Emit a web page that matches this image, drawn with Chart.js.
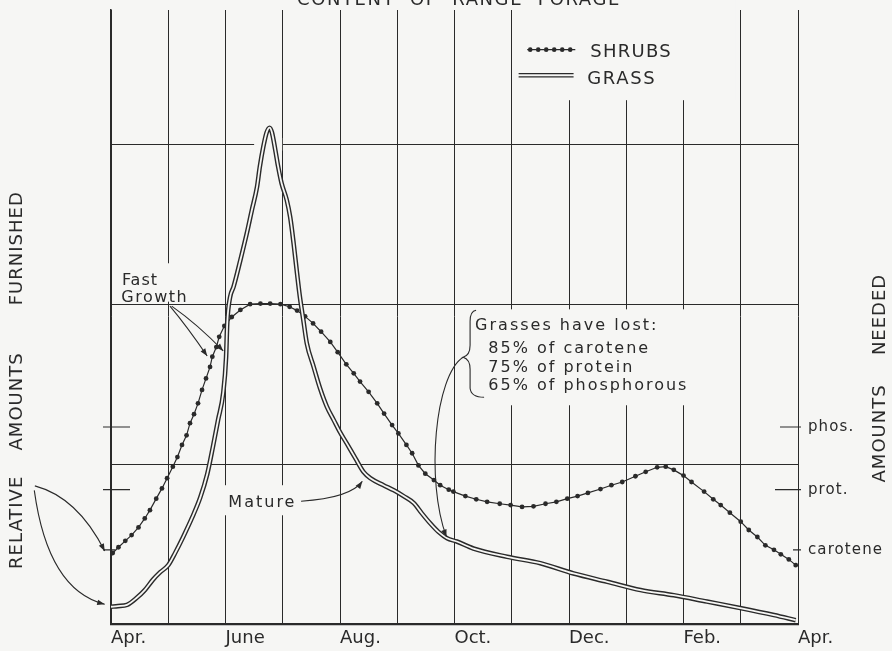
<!DOCTYPE html>
<html>
<head>
<meta charset="utf-8">
<title>Content of range forage</title>
<script src="https://cdn.jsdelivr.net/npm/chart.js@4.4.1/dist/chart.umd.min.js"></script>
<style>
    html, body { margin: 0; padding: 0; background: #f6f6f4; }
    #caixa { width: 892px; height: 651px; position: relative; }
</style>
</head>
<body>
<div id="caixa"><canvas id="grafico"></canvas></div>
<script>
// x = months after April (0 = Apr., 12 = next Apr.), y = relative amount
var monthLabels = ['Apr.', 'June', 'Aug.', 'Oct.', 'Dec.', 'Feb.', 'Apr.'];

var shrubMonths = [0.03, 0.13, 0.25, 0.36, 0.48, 0.59, 0.68, 0.79, 0.89, 0.98, 1.08, 1.16, 1.24, 1.32, 1.38,
    1.45, 1.52, 1.59, 1.66, 1.73, 1.77, 1.84, 1.89, 1.98, 2.11, 2.26, 2.43, 2.61, 2.78, 2.96, 3.12, 3.25,
    3.39, 3.53, 3.67, 3.83, 3.96, 4.11, 4.24, 4.35, 4.50, 4.65, 4.77, 4.91, 5.02, 5.16, 5.26, 5.37, 5.49,
    5.64, 5.75, 5.90, 5.98, 6.19, 6.38, 6.57, 6.79, 6.98, 7.18, 7.38, 7.59, 7.78, 7.97, 8.15, 8.33, 8.55,
    8.74, 8.93, 9.16, 9.34, 9.54, 9.69, 9.83, 10.00, 10.14, 10.36, 10.52, 10.65, 10.81, 11.00, 11.14,
    11.29, 11.43, 11.58, 11.70, 11.84, 11.96];
var shrubAmounts = [11.1, 12.0, 13.0, 13.9, 15.1, 16.5, 17.8, 19.6, 21.2, 22.8, 24.6, 26.1, 28.0, 29.5, 31.4,
    32.8, 34.5, 36.6, 38.4, 40.2, 41.8, 43.3, 44.9, 46.6, 48.0, 49.1, 50.0, 50.1, 50.1, 50.0, 49.6, 49.0,
    48.1, 47.0, 45.7, 44.1, 42.5, 40.6, 39.2, 37.9, 36.3, 34.5, 32.9, 31.1, 29.8, 28.0, 26.7, 24.8, 23.5,
    22.5, 21.7, 21.0, 20.7, 20.0, 19.5, 19.1, 18.8, 18.6, 18.3, 18.4, 18.8, 19.1, 19.6, 20.0, 20.5, 21.1,
    21.7, 22.2, 23.1, 23.8, 24.5, 24.6, 24.1, 23.2, 22.2, 20.7, 19.5, 18.6, 17.4, 16.0, 14.7,
    13.6, 12.3, 11.6, 10.9, 10.1, 9.2];

var grassMonths = [0, 0.12, 0.28, 0.45, 0.59, 0.73, 0.86, 1.00, 1.12, 1.26, 1.42, 1.56, 1.68, 1.78, 1.87,
    1.96, 2.01, 2.03, 2.08, 2.14, 2.26, 2.37, 2.46, 2.55, 2.60, 2.66, 2.72, 2.77, 2.81, 2.87, 2.92, 2.98,
    3.07, 3.13, 3.19, 3.25, 3.30, 3.36, 3.42, 3.54, 3.65, 3.77, 3.89, 4.00, 4.12, 4.27, 4.41, 4.53, 4.76,
    4.94, 5.11, 5.29, 5.43, 5.58, 5.72, 5.87, 6.04, 6.33, 6.92, 7.50, 8.08, 8.67, 9.25, 9.83, 10.41,
    10.99, 11.58, 11.96];
var grassAmounts = [2.7, 2.8, 3.0, 4.1, 5.3, 6.9, 8.1, 9.2, 11.1, 13.6, 16.7, 19.8, 23.4, 27.7, 31.9,
    36.1, 41.7, 47.0, 51.1, 52.7, 56.9, 61.0, 64.7, 68.3, 71.5, 74.6, 76.9, 77.6, 76.9, 74.1, 71.5, 68.9,
    66.3, 63.6, 59.5, 54.8, 51.1, 47.5, 43.9, 40.2, 36.9, 34.0, 31.9, 30.0, 28.2, 25.9, 23.8, 22.8, 21.7,
    20.9, 20.0, 18.9, 17.3, 15.7, 14.4, 13.4, 12.9, 11.8, 10.5, 9.5, 7.9, 6.6, 5.3, 4.5, 3.5,
    2.5, 1.4, 0.6];

// levels needed (marked on the right-hand axis)
var needLabels = ['phos.', 'prot.', 'carotene'];
var needLevels = [30.8, 21.0, 11.6];

document.addEventListener('DOMContentLoaded', function () {
    var ctx = document.getElementById('grafico').getContext('2d');
    var fundo = '#f6f6f4';
    var tinta = '#2a2a2a';
    var familia = '"DejaVu Sans", sans-serif';

    function fonte(tam) { return tam + 'px ' + familia; }

    function pontos(xs, ys) {
        return xs.map(function (x, i) { return { x: x, y: ys[i] }; });
    }

    function texto(c, s, x, y, tam, esp, align) {
        c.font = fonte(tam);
        c.letterSpacing = (esp || 0) + 'px';
        c.textAlign = align || 'left';
        c.fillText(s, x, y);
    }

    // pequena ponta de seta cheia
    function ponta(c, de, para) {
        var ang = Math.atan2(para.y - de.y, para.x - de.x);
        var L = 8, w = 0.36;
        c.beginPath();
        c.moveTo(para.x, para.y);
        c.lineTo(para.x - L * Math.cos(ang - w), para.y - L * Math.sin(ang - w));
        c.lineTo(para.x - L * Math.cos(ang + w), para.y - L * Math.sin(ang + w));
        c.closePath();
        c.fill();
    }

    function seta(c, p0, cp, p1) {
        c.beginPath();
        c.moveTo(p0.x, p0.y);
        c.quadraticCurveTo(cp.x, cp.y, p1.x, p1.y);
        c.stroke();
        ponta(c, cp, p1);
    }

    var anotacoes = {
        id: 'anotacoes',
        beforeDatasetsDraw: function (chart) {
            // blank areas behind the lettering, where the grid is broken
            var c = chart.ctx, sx = chart.scales.x, sy = chart.scales.y;
            function caixa(m0, a0, m1, a1) {
                var x0 = sx.getPixelForValue(m0), x1 = sx.getPixelForValue(m1);
                var y0 = sy.getPixelForValue(a0), y1 = sy.getPixelForValue(a1);
                c.fillRect(x0, y0, x1 - x0, y1 - y0);
            }
            c.save();
            c.fillStyle = fundo;
            caixa(0.12, 56.4, 1.49, 50.4);
            caixa(1.94, 21.7, 3.30, 17.0);
            caixa(6.14, 49.2, 10.38, 34.2);
            caixa(7.01, 100, 10.91, 81.9);
            caixa(2.50, 76.0, 2.99, 74.0);
            c.restore();
        },
        afterDraw: function (chart) {
            var c = chart.ctx, sx = chart.scales.x, sy = chart.scales.y;
            function P(m, a) { return { x: sx.getPixelForValue(m), y: sy.getPixelForValue(a) }; }
            var esq = sx.getPixelForValue(0), dir = sx.getPixelForValue(12);

            c.save();
            c.fillStyle = tinta;
            c.strokeStyle = tinta;
            c.textBaseline = 'alphabetic';

            // title, cut by the top of the page
            texto(c, 'CONTENT  OF  RANGE  FORAGE', 459, 5, 18, 1.6, 'center');

            // axis words, rotated
            function vertical(s, x, a) {
                c.save();
                c.translate(x, sy.getPixelForValue(a));
                c.rotate(-Math.PI / 2);
                c.textBaseline = 'middle';
                texto(c, s, 0, 0, 18, 1, 'center');
                c.restore();
            }
            vertical('RELATIVE', 17, 15.9);
            vertical('AMOUNTS', 17, 34.8);
            vertical('FURNISHED', 17, 58.75);
            vertical('AMOUNTS', 880, 29.8);
            vertical('NEEDED', 880, 48.4);

            // needed levels: ticks on both axes, labels on the right
            c.lineWidth = 1.2;
            needLevels.forEach(function (v, i) {
                var y = sy.getPixelForValue(v);
                var dentro = i < 2 ? (i === 0 ? 18 : 23) : 5;
                c.beginPath();
                c.moveTo(dir - dentro, y); c.lineTo(dir + 3, y);
                c.moveTo(esq - 8, y); c.lineTo(esq + (i < 2 ? 19 : 4), y);
                c.stroke();
                c.textBaseline = 'middle';
                texto(c, needLabels[i], dir + 10, y, 15, 1.1, 'left');
            });
            c.textBaseline = 'alphabetic';

            // legend
            var s0 = P(7.27, 89.8), s1 = P(8.11, 89.8);
            c.lineWidth = 1.2;
            c.beginPath(); c.moveTo(s0.x, s0.y); c.lineTo(s1.x, s1.y); c.stroke();
            for (var xx = s0.x + 3; xx <= s1.x; xx += 8) {
                c.beginPath(); c.arc(xx, s0.y, 2.3, 0, Math.PI * 2); c.fill();
            }
            var g0 = P(7.12, 85.8), g1 = P(8.08, 85.8);
            c.lineWidth = 4.6;
            c.beginPath(); c.moveTo(g0.x, g0.y); c.lineTo(g1.x, g1.y); c.stroke();
            c.strokeStyle = fundo; c.lineWidth = 1.8;
            c.beginPath(); c.moveTo(g0.x - 1, g0.y); c.lineTo(g1.x + 1, g1.y); c.stroke();
            c.strokeStyle = tinta;
            var t = P(8.37, 88.6);
            texto(c, 'SHRUBS', t.x, t.y, 18, 1.3);
            t = P(8.32, 84.5);
            texto(c, 'GRASS', t.x, t.y, 18, 1.6);

            // lettering inside the plot
            t = P(0.19, 53.0); texto(c, 'Fast', t.x, t.y, 16, 1);
            t = P(0.18, 50.4); texto(c, 'Growth', t.x, t.y, 16, 1.5);
            t = P(2.05, 18.3); texto(c, 'Mature', t.x, t.y, 16, 2);
            t = P(6.36, 45.9); texto(c, 'Grasses have lost:', t.x, t.y, 16, 2);
            t = P(6.59, 42.3); texto(c, '85% of carotene', t.x, t.y, 16, 2);
            t = P(6.59, 39.4); texto(c, '75% of protein', t.x, t.y, 16, 2);
            t = P(6.59, 36.6); texto(c, '65% of phosphorous', t.x, t.y, 16, 2);

            // arrows
            c.lineWidth = 1.1;
            seta(c, P(1.03, 49.7), P(1.33, 46.5), P(1.68, 41.9));
            seta(c, P(1.06, 49.7), P(1.52, 46.8), P(1.96, 42.7));
            seta(c, P(3.32, 19.2), P(4.18, 19.7), P(4.39, 22.3));
            seta(c, P(-1.33, 21.6), P(-0.58, 19.8), P(-0.11, 11.4));
            seta(c, P(-1.34, 20.9), P(-1.10, 5.3), P(-0.11, 3.1));

            // brace and its arrow
            var b = P(6.15, 41.7);
            c.beginPath();
            c.moveTo(b.x + 13, b.y - 47);
            c.quadraticCurveTo(b.x + 7, b.y - 46, b.x + 7, b.y - 36);
            c.lineTo(b.x + 7, b.y - 12);
            c.quadraticCurveTo(b.x + 7, b.y - 2, b.x, b.y);
            c.quadraticCurveTo(b.x + 7, b.y + 2, b.x + 7, b.y + 12);
            c.lineTo(b.x + 7, b.y + 31);
            c.quadraticCurveTo(b.x + 8, b.y + 40, b.x + 21, b.y + 40);
            c.stroke();
            var c1 = P(5.66, 38.9), c2 = P(5.49, 22.5), fim = P(5.86, 13.6);
            c.beginPath();
            c.moveTo(b.x, b.y);
            c.bezierCurveTo(c1.x, c1.y, c2.x, c2.y, fim.x, fim.y);
            c.stroke();
            ponta(c, c2, fim);

            c.restore();
        }
    };

    new Chart(ctx, {
        type: 'line',
        data: {
            datasets: [{
                label: 'GRASS',
                data: pontos(grassMonths, grassAmounts),
                borderColor: fundo,
                borderWidth: 1.8,
                pointRadius: 0,
                cubicInterpolationMode: 'monotone'
            }, {
                label: 'GRASS',
                data: pontos(grassMonths, grassAmounts),
                borderColor: tinta,
                borderWidth: 4.6,
                pointRadius: 0,
                cubicInterpolationMode: 'monotone'
            }, {
                label: 'SHRUBS',
                data: pontos(shrubMonths, shrubAmounts),
                borderColor: tinta,
                borderWidth: 1.2,
                pointRadius: 2.4,
                pointBackgroundColor: tinta,
                pointBorderWidth: 0
            }]
        },
        options: {
            responsive: true,
            maintainAspectRatio: false,
            animation: false,
            layout: { padding: { left: 111, right: 94, top: 10, bottom: 0 } },
            plugins: { legend: { display: false }, tooltip: { enabled: false } },
            scales: {
                x: {
                    type: 'linear',
                    min: 0,
                    max: 12,
                    afterFit: function (escala) { escala.height = 27; },
                    grid: { color: tinta, lineWidth: 1, drawTicks: false },
                    border: { color: tinta, width: 2.2 },
                    ticks: {
                        stepSize: 1,
                        autoSkip: false,
                        maxRotation: 0,
                        align: 'start',
                        padding: 4,
                        color: tinta,
                        font: { family: familia, size: 18 },
                        callback: function (v) { return v % 2 === 0 ? monthLabels[v / 2] : ''; }
                    }
                },
                y: {
                    min: 0,
                    max: 96,
                    grid: { color: tinta, lineWidth: 1, drawTicks: false },
                    border: { color: tinta, width: 1.6 },
                    ticks: { display: false, stepSize: 25, includeBounds: false }
                }
            }
        },
        plugins: [anotacoes]
    });
});
</script>
</body>
</html>
